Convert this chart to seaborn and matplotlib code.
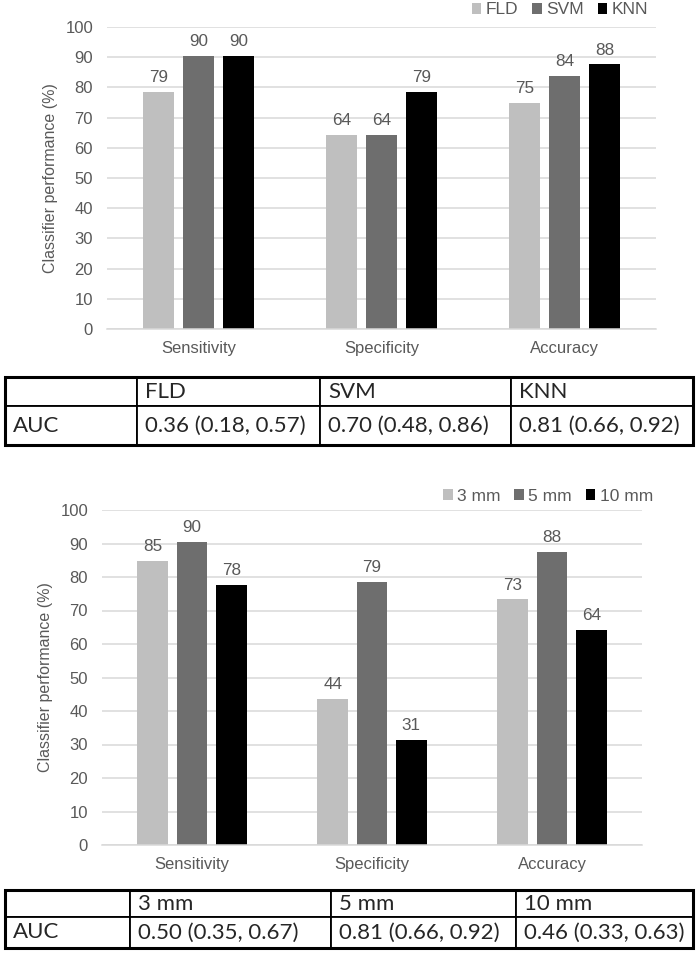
import pandas as pd
import matplotlib.pyplot as plt
import seaborn as sns

# Categories on the x axis
metrics = ['Sensitivity', 'Specificity', 'Accuracy']

# Top panel: classifiers
classifiers = ['FLD', 'SVM', 'KNN']
fld_scores = [78.6, 64.3, 75.0]
svm_scores = [90.4, 64.3, 83.8]
knn_scores = [90.4, 78.6, 87.6]
classifier_auc = ['0.36 (0.18, 0.57)', '0.70 (0.48, 0.86)', '0.81 (0.66, 0.92)']

# Bottom panel: sizes
sizes = ['3 mm', '5 mm', '10 mm']
mm3_scores = [84.9, 43.7, 73.3]
mm5_scores = [90.4, 78.6, 87.6]
mm10_scores = [77.6, 31.3, 64.2]
size_auc = ['0.50 (0.35, 0.67)', '0.81 (0.66, 0.92)', '0.46 (0.33, 0.63)']

y_ticks = list(range(0, 101, 10))

grays = ['#bfbfbf', '#6e6e6e', '#000000']
text_gray = '#595959'
grid_gray = '#d9d9d9'

sns.set_style('white')
plt.rcParams['font.family'] = ['Liberation Sans', 'DejaVu Sans']

W, H = 700, 959
fig = plt.figure(figsize=(W / 100, H / 100), dpi=100)


def long_form(groups, series):
    rows = []
    for g, vals in zip(groups, series):
        for m, v in zip(metrics, vals):
            rows.append({'metric': m, 'group': g, 'value': v})
    return pd.DataFrame(rows)


def bar_panel(rect, df, groups, legend_xy):
    ax = fig.add_axes(rect)
    sns.barplot(data=df, x='metric', y='value', hue='group', order=metrics,
                hue_order=groups, palette=grays, saturation=1, width=0.656,
                gap=0.225, errorbar=None, linewidth=0, ax=ax)
    for c in ax.containers:
        ax.bar_label(c, fmt='%.0f', padding=5, fontsize=12.3, color=text_gray)
    ax.set_xlim(-0.5, 2.5)
    ax.set_ylim(0, 100)
    ax.set_yticks(y_ticks)
    ax.yaxis.grid(True, color=grid_gray, linewidth=1.1)
    ax.set_axisbelow(True)
    for side in ['top', 'right', 'left']:
        ax.spines[side].set_visible(False)
    ax.spines['bottom'].set_color(grid_gray)
    ax.spines['bottom'].set_linewidth(1.1)
    ax.tick_params(axis='both', length=0, labelsize=12, labelcolor=text_gray)
    ax.tick_params(axis='x', pad=9)
    ax.tick_params(axis='y', pad=10)
    ax.set_xlabel('')
    ax.set_ylabel('Classifier performance (%)', fontsize=11.5, color=text_gray, labelpad=5)
    handles, labels = ax.get_legend_handles_labels()
    ax.legend(handles, labels, loc='center right', bbox_to_anchor=legend_xy,
              bbox_transform=fig.transFigure, ncol=3, frameon=False,
              handlelength=0.55, handleheight=0.55, handletextpad=0.25,
              columnspacing=0.8, borderpad=0, borderaxespad=0,
              fontsize=12.5, labelcolor=text_gray)
    return ax


def auc_table(rect, header, auc, col_px, row_px):
    tax = fig.add_axes(rect)
    tax.axis('off')
    cells = [[''] + header, ['AUC'] + auc]
    total = sum(col_px)
    tbl = tax.table(cellText=cells, colWidths=[w / total for w in col_px],
                    bbox=[0, 0, 1, 1], cellLoc='left')
    tbl.auto_set_font_size(False)
    for (r, c), cell in tbl.get_celld().items():
        cell.set_height(row_px[r] / sum(row_px))
        cell.set_linewidth(1.3)
        cell.set_edgecolor('black')
        cell.PAD = 8 / col_px[c]
        cell.get_text().set_fontsize(16)
        cell.get_text().set_fontfamily(['Lato', 'DejaVu Sans'])
    tax.add_patch(plt.Rectangle((0, 0), 1, 1, transform=tax.transAxes, fill=False,
                                lw=2.2, edgecolor='black', clip_on=False))


# Top chart
top_df = long_form(classifiers, [fld_scores, svm_scores, knn_scores])
bar_panel([107 / W, 1 - 329 / H, 549 / W, 302 / H], top_df, classifiers,
          (648 / W, 1 - 10 / H))
auc_table([5 / W, 1 - 445 / H, 688 / W, 68 / H], classifiers, classifier_auc,
          [132, 183, 191, 182], [29, 39])

# Bottom chart
bottom_df = long_form(sizes, [mm3_scores, mm5_scores, mm10_scores])
bar_panel([102 / W, 1 - 845 / H, 540 / W, 335 / H], bottom_df, sizes,
          (653 / W, 1 - 496 / H))
auc_table([5 / W, 1 - 948 / H, 688 / W, 58 / H], sizes, size_auc,
          [125, 201, 185, 177], [27, 31])

fig.savefig('out.png', dpi=100)
